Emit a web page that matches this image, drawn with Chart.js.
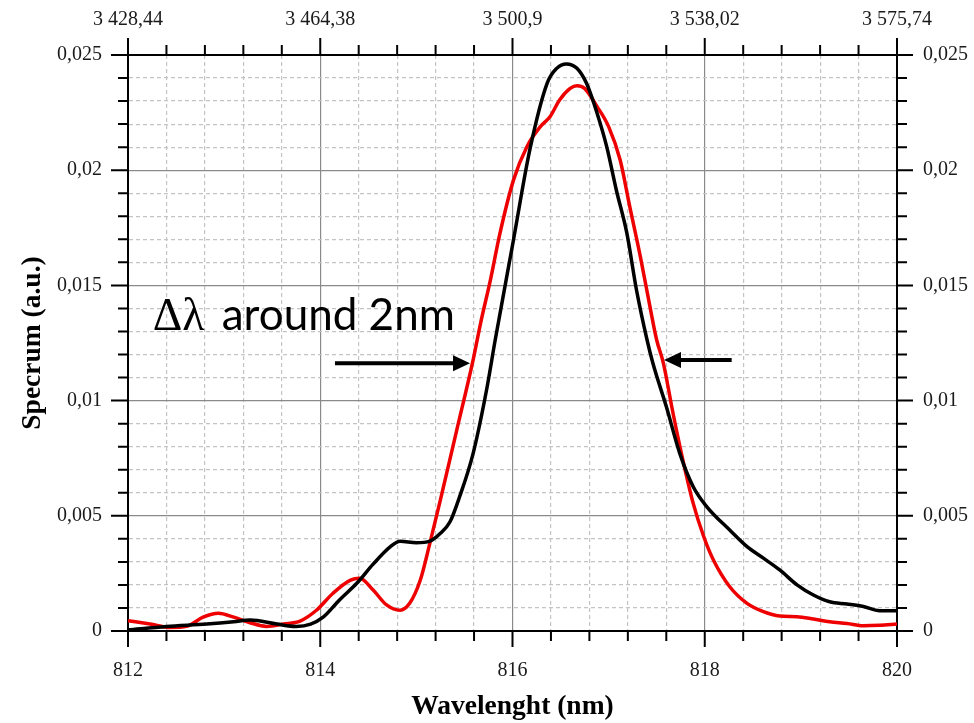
<!DOCTYPE html>
<html>
<head>
<meta charset="utf-8">
<script src="https://cdn.jsdelivr.net/npm/chart.js@4.4.1/dist/chart.umd.min.js"></script>
<style>
  html, body { margin: 0; padding: 0; background: #fff; }
  #chart { display: block; }
</style>
</head>
<body>
<canvas id="chart" width="974" height="723"></canvas>
<script>
// spectre noir (mesure 1)
const blackWl = [812.0, 812.4, 812.82, 813.1, 813.27, 813.55, 813.75, 813.9, 814.03, 814.2, 814.38, 814.55, 814.73, 814.83, 815.0, 815.14, 815.25, 815.35, 815.45, 815.59, 815.73, 815.82, 816.01, 816.18, 816.36, 816.46, 816.56, 816.67, 816.77, 816.88, 816.98, 817.08, 817.19, 817.29, 817.4, 817.46, 817.6, 817.74, 817.88, 818.02, 818.26, 818.44, 818.61, 818.78, 818.96, 819.13, 819.3, 819.48, 819.65, 819.82, 820.0];
const blackSpec = [0.00005, 0.0002, 0.0003, 0.0004, 0.00048, 0.0003, 0.0002, 0.0003, 0.0006, 0.00135, 0.00207, 0.0029, 0.00366, 0.0039, 0.00383, 0.0039, 0.00424, 0.00474, 0.00583, 0.0077, 0.01046, 0.01263, 0.01697, 0.02088, 0.02377, 0.02442, 0.02461, 0.02442, 0.02377, 0.02247, 0.02102, 0.01914, 0.01726, 0.0148, 0.01263, 0.01163, 0.00974, 0.00771, 0.00626, 0.0054, 0.00438, 0.00366, 0.00316, 0.00265, 0.002, 0.00156, 0.00127, 0.00117, 0.00106, 0.00088, 0.00088];

// spectre rouge (mesure 2)
const redWl = [812.0, 812.23, 812.44, 812.61, 812.78, 812.94, 813.1, 813.27, 813.44, 813.62, 813.79, 813.96, 814.13, 814.31, 814.41, 814.55, 814.69, 814.83, 814.93, 815.04, 815.14, 815.25, 815.42, 815.59, 815.67, 815.77, 815.87, 816.01, 816.15, 816.29, 816.39, 816.49, 816.6, 816.67, 816.75, 816.88, 817.0, 817.12, 817.22, 817.33, 817.43, 817.5, 817.57, 817.67, 817.78, 817.88, 817.99, 818.09, 818.26, 818.44, 818.61, 818.78, 818.96, 819.13, 819.3, 819.48, 819.65, 819.82, 820.0];
const redSpec = [0.00045, 0.0003, 0.00015, 0.0002, 0.0006, 0.00077, 0.0006, 0.00036, 0.0002, 0.0003, 0.00043, 0.0009, 0.00163, 0.0022, 0.00229, 0.00178, 0.00113, 0.0009, 0.0012, 0.0022, 0.0038, 0.00569, 0.00872, 0.01176, 0.0134, 0.01523, 0.01727, 0.01957, 0.02102, 0.02189, 0.02232, 0.02305, 0.02355, 0.02367, 0.02355, 0.02276, 0.02189, 0.02044, 0.01842, 0.01625, 0.01408, 0.01263, 0.01162, 0.00945, 0.00728, 0.00554, 0.00409, 0.00308, 0.00192, 0.0012, 0.00084, 0.00065, 0.00062, 0.00052, 0.0004, 0.00033, 0.00023, 0.00025, 0.0003];

// graduations
const xTickLabels = ['812', '814', '816', '818', '820'];
const topTickLabels = ['3 428,44', '3 464,38', '3 500,9', '3 538,02', '3 575,74'];
const yTickLabels = ['0', '0,005', '0,01', '0,015', '0,02', '0,025'];

const xMin = 812, xMax = 820, xMajor = 2, xMinor = 0.4;
const yMin = 0, yMax = 0.025, yMajor = 0.005, yMinor = 0.001;

// annotation (coordonnées en données)
const noteSymbol = 'Δλ';
const noteText = 'around 2nm';
const notePos = { x: 812.257, y: 0.01306 };
const arrowLeft = { from: { x: 814.153, y: 0.01162 }, to: { x: 815.558, y: 0.01162 } };
const arrowRight = { from: { x: 818.28, y: 0.01176 }, to: { x: 817.576, y: 0.01176 } };

const serif = '"Liberation Serif", "Times New Roman", serif';

function isMajor(v, step, start) {
  const k = (v - start) / step;
  return Math.abs(k - Math.round(k)) < 1e-6;
}
function stepTicks(min, max, step) {
  const out = [];
  const n = Math.round((max - min) / step);
  for (let i = 0; i <= n; i++) out.push({ value: +(min + i * step).toFixed(4) });
  return out;
}

const gridColor = (step, start) => c => isMajor(c.tick.value, step, start) ? '#8a8a8a' : '#c4c4c4';
const gridDash = (step, start) => c => (c.tick && !isMajor(c.tick.value, step, start)) ? [4, 3] : [];

// petites et grandes graduations sur les 4 côtés
const tickMarks = {
  id: 'tickMarks',
  afterDraw(chart) {
    const { ctx, chartArea: a, scales } = chart;
    ctx.save();
    ctx.strokeStyle = '#000';
    ctx.lineWidth = 2;
    ctx.beginPath();
    scales.x.ticks.forEach(t => {
      const px = scales.x.getPixelForValue(t.value);
      const len = isMajor(t.value, xMajor, xMin) ? 16 : 10;
      ctx.moveTo(px, a.bottom); ctx.lineTo(px, a.bottom + len);
    });
    scales.x2.ticks.forEach(t => {
      const px = scales.x2.getPixelForValue(t.value);
      const len = isMajor(t.value, xMajor, xMin) ? 17 : 10;
      ctx.moveTo(px, a.top); ctx.lineTo(px, a.top - len);
    });
    scales.y.ticks.forEach(t => {
      const py = scales.y.getPixelForValue(t.value);
      const len = isMajor(t.value, yMajor, yMin) ? 17 : 10;
      ctx.moveTo(a.left, py); ctx.lineTo(a.left - len, py);
    });
    scales.y2.ticks.forEach(t => {
      const py = scales.y2.getPixelForValue(t.value);
      const len = isMajor(t.value, yMajor, yMin) ? 16 : 10;
      ctx.moveTo(a.right, py); ctx.lineTo(a.right + len, py);
    });
    ctx.stroke();
    ctx.restore();
  }
};

function drawArrow(ctx, x1, y1, x2, y2) {
  const dir = Math.sign(x2 - x1);
  const head = 17, half = 8;
  ctx.beginPath();
  ctx.moveTo(x1, y1);
  ctx.lineTo(x2 - dir * head, y2);
  ctx.stroke();
  ctx.beginPath();
  ctx.moveTo(x2, y2);
  ctx.lineTo(x2 - dir * head, y2 - half);
  ctx.lineTo(x2 - dir * head, y2 + half);
  ctx.closePath();
  ctx.fill();
}

const noteLayer = {
  id: 'noteLayer',
  afterDatasetsDraw(chart) {
    const { ctx, scales: { x, y } } = chart;
    ctx.save();
    ctx.fillStyle = '#000';
    ctx.strokeStyle = '#000';
    ctx.lineWidth = 4;
    const tx = x.getPixelForValue(notePos.x);
    const ty = y.getPixelForValue(notePos.y);
    ctx.textBaseline = 'alphabetic';
    ctx.textAlign = 'left';
    ctx.font = '46px ' + serif;
    ctx.fillText(noteSymbol, tx, ty);
    ctx.font = '40px Lato';
    const w = ctx.measureText(noteText).width;
    const size = 40 * 233 / w;
    ctx.font = size.toFixed(1) + 'px Lato';
    ctx.fillText(noteText, tx + 69, ty);

    drawArrow(ctx, x.getPixelForValue(arrowLeft.from.x), y.getPixelForValue(arrowLeft.from.y),
      x.getPixelForValue(arrowLeft.to.x), y.getPixelForValue(arrowLeft.to.y));
    drawArrow(ctx, x.getPixelForValue(arrowRight.from.x), y.getPixelForValue(arrowRight.from.y),
      x.getPixelForValue(arrowRight.to.x), y.getPixelForValue(arrowRight.to.y));
    ctx.restore();
  }
};

const tickFont = { family: serif, size: 20 };
const titleFont = { family: serif, size: 27.5, weight: 'bold', lineHeight: 1.2 };

new Chart(document.getElementById('chart'), {
  type: 'scatter',
  data: {
    datasets: [
      {
        label: 'noir',
        data: blackWl.map((w, i) => ({ x: w, y: blackSpec[i] })),
        showLine: true,
        borderColor: '#000000',
        borderWidth: 3.5,
        pointRadius: 0,
        cubicInterpolationMode: 'monotone'
      },
      {
        label: 'rouge',
        data: redWl.map((w, i) => ({ x: w, y: redSpec[i] })),
        showLine: true,
        borderColor: '#ee0000',
        borderWidth: 3.5,
        pointRadius: 0,
        cubicInterpolationMode: 'monotone'
      }
    ]
  },
  options: {
    responsive: false,
    animation: false,
    devicePixelRatio: 1,
    layout: { padding: 0 },
    plugins: {
      legend: { display: false },
      tooltip: { enabled: false }
    },
    scales: {
      x: {
        type: 'linear',
        position: 'bottom',
        min: xMin,
        max: xMax,
        afterBuildTicks: s => { s.ticks = stepTicks(xMin, xMax, xMinor); },
        afterFit: s => { s.height = 92; },
        ticks: {
          autoSkip: false,
          maxRotation: 0,
          padding: 28,
          color: '#1a1a1a',
          font: tickFont,
          callback: v => isMajor(v, xMajor, xMin) ? xTickLabels[Math.round((v - xMin) / xMajor)] : ''
        },
        grid: {
          drawTicks: false,
          color: gridColor(xMajor, xMin),
          lineWidth: 1.2
        },
        border: { display: true, color: '#000', width: 2, dash: gridDash(xMajor, xMin) },
        title: { display: true, text: 'Wavelenght (nm)', color: '#000', font: titleFont, padding: { top: 0, bottom: 0 } }
      },
      x2: {
        type: 'linear',
        position: 'top',
        min: xMin,
        max: xMax,
        afterBuildTicks: s => { s.ticks = stepTicks(xMin, xMax, xMinor); },
        afterFit: s => { s.height = 55; },
        ticks: {
          autoSkip: false,
          maxRotation: 0,
          padding: 23,
          color: '#1a1a1a',
          font: tickFont,
          callback: v => isMajor(v, xMajor, xMin) ? topTickLabels[Math.round((v - xMin) / xMajor)] : ''
        },
        grid: { drawTicks: false, drawOnChartArea: false },
        border: { display: true, color: '#000', width: 2 }
      },
      y: {
        type: 'linear',
        position: 'left',
        min: yMin,
        max: yMax,
        afterBuildTicks: s => { s.ticks = stepTicks(yMin, yMax, yMinor); },
        afterFit: s => { s.width = 128; },
        ticks: {
          autoSkip: false,
          padding: 26,
          color: '#1a1a1a',
          font: tickFont,
          callback: v => isMajor(v, yMajor, yMin) ? yTickLabels[Math.round(v / yMajor)] : ''
        },
        grid: {
          drawTicks: false,
          color: gridColor(yMajor, yMin),
          lineWidth: 1.2
        },
        border: { display: true, color: '#000', width: 2, dash: gridDash(yMajor, yMin) },
        title: { display: true, text: 'Specrum (a.u.)', color: '#000', font: titleFont, padding: { top: 16, bottom: 0 } }
      },
      y2: {
        type: 'linear',
        position: 'right',
        min: yMin,
        max: yMax,
        afterBuildTicks: s => { s.ticks = stepTicks(yMin, yMax, yMinor); },
        afterFit: s => { s.width = 77; },
        ticks: {
          autoSkip: false,
          padding: 26,
          color: '#1a1a1a',
          font: tickFont,
          callback: v => isMajor(v, yMajor, yMin) ? yTickLabels[Math.round(v / yMajor)] : ''
        },
        grid: { drawTicks: false, drawOnChartArea: false },
        border: { display: true, color: '#000', width: 2 }
      }
    }
  },
  plugins: [tickMarks, noteLayer]
});
</script>
</body>
</html>
